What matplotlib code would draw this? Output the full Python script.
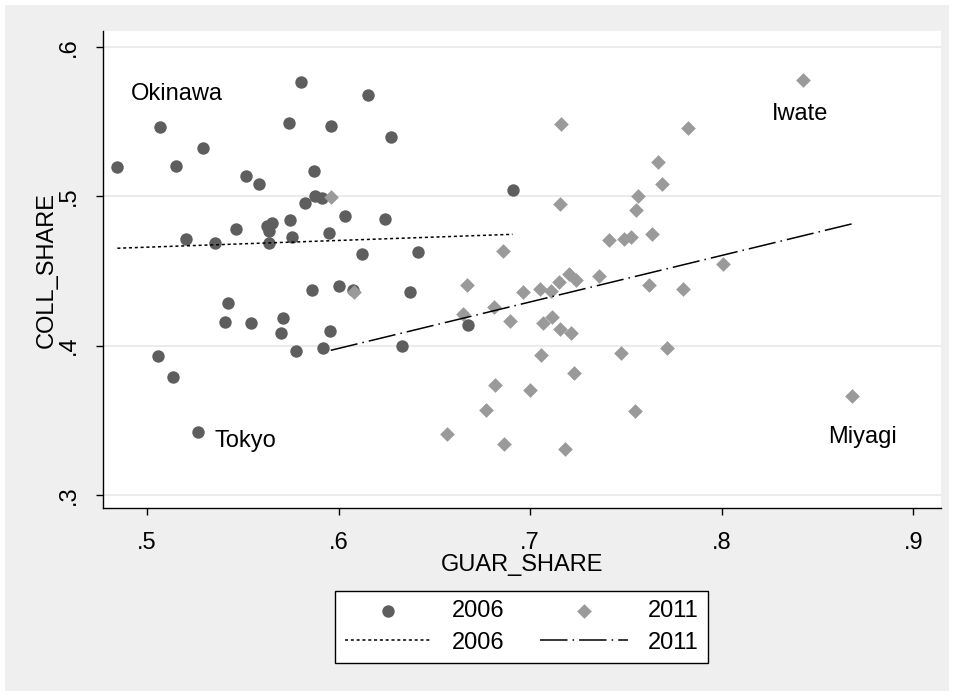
import matplotlib
matplotlib.use('Agg')
import matplotlib.pyplot as plt
from matplotlib.patches import Rectangle
import numpy as np

plt.rcParams['font.family'] = ['Liberation Sans', 'DejaVu Sans']

# guarantee share vs. collateral share by prefecture
guar_2006 = [0.4845, 0.5068, 0.5153, 0.5292, 0.5802, 0.5742, 0.5961, 0.5515, 0.5586, 0.5869,
             0.5877, 0.5915, 0.5825, 0.6034, 0.5202, 0.5355, 0.5465, 0.5627, 0.5651, 0.5637,
             0.5637, 0.5747, 0.5756, 0.5949, 0.6156, 0.6273, 0.6241, 0.6123, 0.6414, 0.6908,
             0.5859, 0.6001, 0.5425, 0.5407, 0.5543, 0.5709, 0.5699, 0.5956, 0.5778, 0.5916,
             0.5056, 0.5136, 0.5266, 0.6076, 0.6372, 0.6330, 0.6673]
coll_2006 = [0.5193, 0.5461, 0.5204, 0.5324, 0.5764, 0.5491, 0.5467, 0.5137, 0.5083, 0.5170,
             0.5003, 0.4985, 0.4952, 0.4869, 0.4713, 0.4688, 0.4778, 0.4802, 0.4818, 0.4767,
             0.4688, 0.4840, 0.4726, 0.4750, 0.5679, 0.5398, 0.4847, 0.4611, 0.4624, 0.5041,
             0.4370, 0.4397, 0.4285, 0.4160, 0.4148, 0.4182, 0.4086, 0.4099, 0.3966, 0.3986,
             0.3930, 0.3788, 0.3422, 0.4372, 0.4360, 0.3997, 0.4136]

guar_2011 = [0.5959, 0.6857, 0.7162, 0.7157, 0.6081, 0.6671, 0.6961, 0.7049, 0.7107, 0.7153,
             0.6652, 0.6812, 0.6894, 0.7068, 0.7115, 0.7155, 0.7059, 0.6817, 0.6998, 0.6770,
             0.6565, 0.6864, 0.7181, 0.8422, 0.7825, 0.7665, 0.7686, 0.7564, 0.7555, 0.7414,
             0.7489, 0.7529, 0.7634, 0.8009, 0.7204, 0.7240, 0.7360, 0.7620, 0.7797, 0.7213,
             0.7474, 0.7717, 0.7231, 0.7550, 0.8681]
coll_2011 = [0.4996, 0.4635, 0.5486, 0.4946, 0.4358, 0.4405, 0.4356, 0.4377, 0.4365, 0.4427,
             0.4211, 0.4260, 0.4164, 0.4151, 0.4193, 0.4113, 0.3939, 0.3738, 0.3705, 0.3567,
             0.3406, 0.3341, 0.3308, 0.5777, 0.5454, 0.5226, 0.5081, 0.5003, 0.4905, 0.4706,
             0.4711, 0.4726, 0.4745, 0.4546, 0.4482, 0.4439, 0.4463, 0.4407, 0.4379, 0.4082,
             0.3952, 0.3982, 0.3814, 0.3564, 0.3662]

# (name, year, index of the point, label offset in pixels, alignment)
point_labels = [
    ('Okinawa', 2006, 1, (17, 33), 'center'),
    ('Tokyo', 2006, 42, (16, -9), 'left'),
    ('Iwate', 2011, 23, (-2, -34), 'center'),
    ('Miyagi', 2011, 44, (10, -41), 'center'),
]

xticks = [0.5, 0.6, 0.7, 0.8, 0.9]
yticks = [0.3, 0.4, 0.5, 0.6]

W, H = 954, 696
fig = plt.figure(figsize=(W / 100, H / 100), dpi=100)
fig.patch.set_facecolor('white')
fig.patches.append(Rectangle((5 / W, 5 / H), 1 - 10 / W, 1 - 10 / H, transform=fig.transFigure,
                             facecolor='#efefef', edgecolor='none', zorder=-10))

ax = fig.add_axes([103 / W, 1 - 508 / H, (941 - 103) / W, (508 - 31) / H])
ax.set_facecolor('white')

c06, c11 = '#5e5e5e', '#9a9a9a'
ax.scatter(guar_2006, coll_2006, s=80, marker='o', color=c06, linewidths=0, zorder=3)
ax.scatter(guar_2011, coll_2011, s=56, marker='D', color=c11, linewidths=0, zorder=3)


def lfit(x, y):
    x = np.asarray(x)
    b, a = np.polyfit(x, y, 1)
    xs = np.array([x.min(), x.max()])
    return xs, a + b * xs


dot = (0, (2, 1.8))
dashdot = (0, (18, 3.3, 1, 3.3))
xs, ys = lfit(guar_2006, coll_2006)
ax.plot(xs, ys, color='black', lw=1.1, linestyle=dot, zorder=4)
xs, ys = lfit(guar_2011, coll_2011)
ax.plot(xs, ys, color='black', lw=1.1, linestyle=dashdot, zorder=4)

data = {2006: (guar_2006, coll_2006), 2011: (guar_2011, coll_2011)}
for name, yr, i, off, ha in point_labels:
    gx, cy = data[yr]
    ax.annotate(name, (gx[i], cy[i]), xytext=off, textcoords='offset pixels',
                ha=ha, va='center', fontsize=17, color='black')

ax.set_xlim(0.4770, 0.9145)
ax.set_ylim(0.2913, 0.6105)
ax.set_xticks(xticks)
ax.set_xticklabels([f'{t:.1f}'.lstrip('0') for t in xticks])
ax.set_yticks(yticks)
ax.set_yticklabels([f'{t:.1f}'.lstrip('0') for t in yticks], rotation=90, va='center')
ax.tick_params(labelsize=17, length=5, width=1, color='black', pad=12)
ax.yaxis.grid(True, color='#e8e8e8', lw=1.2)
ax.set_axisbelow(True)
for s in ['top', 'right']:
    ax.spines[s].set_visible(False)
for s in ['left', 'bottom']:
    ax.spines[s].set_color('black')
    ax.spines[s].set_linewidth(1)

ax.set_xlabel('GUAR_SHARE', fontsize=17, labelpad=0)
ax.set_ylabel('COLL_SHARE', fontsize=17, labelpad=0)

# legend: markers in the first row, fit lines in the second
h1 = ax.scatter([], [], s=80, marker='o', color=c06, linewidths=0)
h2 = plt.Line2D([], [], color='black', lw=1.1, linestyle=dot)
h3 = ax.scatter([], [], s=56, marker='D', color=c11, linewidths=0)
h4 = plt.Line2D([], [], color='black', lw=1.1, linestyle=dashdot)
leg = fig.legend([h1, h2, h3, h4], ['2006', '2006', '2011', '2011'], ncol=2,
                 loc='center', bbox_to_anchor=(521.5 / W, 1 - 627 / H), fontsize=17,
                 frameon=True, fancybox=False, edgecolor='black', framealpha=1,
                 handlelength=3.7, handletextpad=0.85, columnspacing=1.5,
                 labelspacing=0.4, borderpad=0.4, scatterpoints=1, borderaxespad=0)
leg.get_frame().set_linewidth(1)

plt.savefig('out.png', dpi=100, facecolor=fig.get_facecolor())
